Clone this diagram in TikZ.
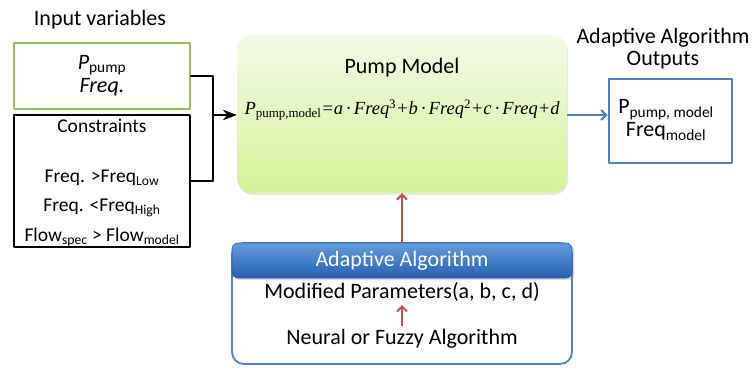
\documentclass[tikz,border=0pt]{standalone}
\usepackage{fontspec}
\setmainfont{Carlito}
\newfontfamily\eqfont{Liberation Serif}
\usetikzlibrary{shadows,arrows.meta}

\definecolor{boxgreen}{RGB}{155,187,89}
\definecolor{outblue}{RGB}{79,129,189}
\definecolor{arrred}{RGB}{192,80,77}
\definecolor{pumptop}{RGB}{243,251,230}
\definecolor{pumpbot}{RGB}{212,243,152}
\definecolor{headtop}{RGB}{98,156,222}
\definecolor{headbot}{RGB}{36,96,176}

\newcommand{\lowtxt}[1]{\textsubscript{#1}}

\begin{document}
\begin{tikzpicture}[x=1pt,y=-1pt,font=\fontsize{22}{25}\selectfont,line join=round,>={Stealth},
	inbox/.style={draw=boxgreen,line width=2pt,minimum width=176pt,minimum height=66pt,inner sep=0pt},
	conbox/.style={draw=black,line width=2.2pt,minimum width=176pt,minimum height=132pt,inner sep=0pt},
	context/.style={font=\fontsize{19.5}{22}\selectfont},
	pumpbox/.style={rounded corners=15pt,top color=pumptop,bottom color=pumpbot,draw=none,
		minimum width=330pt,minimum height=158pt,drop shadow={opacity=0.2,shadow xshift=1pt,shadow yshift=-2pt}},
	outbox/.style={draw=outblue,line width=2pt,minimum width=123pt,minimum height=84pt,inner sep=0pt},
	adabox/.style={draw=outblue,line width=1.8pt,rounded corners=12pt,minimum width=340pt,minimum height=121pt},
	headbox/.style={draw=headbot,line width=0.6pt,rounded corners=6pt,top color=headtop,bottom color=headbot,
		minimum width=340pt,minimum height=35pt,text=white,drop shadow={opacity=0.3,shadow yshift=-2pt}},
	link/.style={line width=2.4pt,line cap=round},
	bluelink/.style={draw=outblue,line width=2pt,-{Straight Barb[length=5pt,width=10pt]}},
	redlink/.style={draw=arrred,line width=2pt,-{Straight Barb[length=5pt,width=10pt]}}]
	\useasboundingbox (0,0) rectangle (752,367);

	% inputs
	\node (intitle) at (100,20) {Input variables};
	\node[inbox,align=center,font=\fontsize{22}{21}\selectfont] (invar) at (102,76) {\textit{P}\lowtxt{pump}\\[2pt]\textit{Freq.}};
	\node[conbox] (conbox) at (102,181) {};
	\node[context] (contitle) at (102,126) {Constraints};
	\node[context] (confreqlow) at (102,178) {Freq. >Freq\lowtxt{Low}};
	\node[context] (confreqhigh) at (102,208) {Freq. <Freq\lowtxt{High}};
	\node[context] (conflow) at (102,237) {Flow\lowtxt{spec} > Flow\lowtxt{model}};

	% pump model
	\node[pumpbox] (pump) at (402,114) {};
	\node (pumptitle) at (402,68) {Pump Model};
	\node[font=\eqfont\itshape\fontsize{18.5}{19}\selectfont] (pumpeq) at (402,110)
		{P\textsubscript{\upshape pump,model}=a\,·\,Freq\textsuperscript{\upshape 3}+b\,·\,Freq\textsuperscript{\upshape 2}+c\,·\,Freq+d};

	\coordinate (join) at (213,115);
	\draw[link] (invar.east) -| (join) |- (conbox.east);
	\draw[link,->] (join) -- (join -| pump.west);

	% outputs
	\node[align=center,font=\fontsize{22}{22}\selectfont] (outtitle) at (663,49) {Adaptive Algorithm\\Outputs};
	\node[outbox] (outbox) at (670,121) {};
	\node[align=center,font=\fontsize{22}{21}\selectfont] (outtext) at (666,120) {P\lowtxt{pump, model}\\[2pt]Freq\lowtxt{model}};
	\draw[bluelink] (pump.east |- join) -- (join -| outbox.west);

	% adaptive algorithm
	\node[adabox] (ada) at (402,303.5) {};
	\node[headbox] (adahead) at (402,260.5) {Adaptive Algorithm};
	\node (modpar) at (402,292) {Modified Parameters(a, b, c, d)};
	\node (neural) at (402,339) {Neural or Fuzzy Algorithm};
	\draw[redlink] (adahead.north) -- (pump.south);
	\draw[redlink] (neural.north) -- (modpar.south);
\end{tikzpicture}
\end{document}
